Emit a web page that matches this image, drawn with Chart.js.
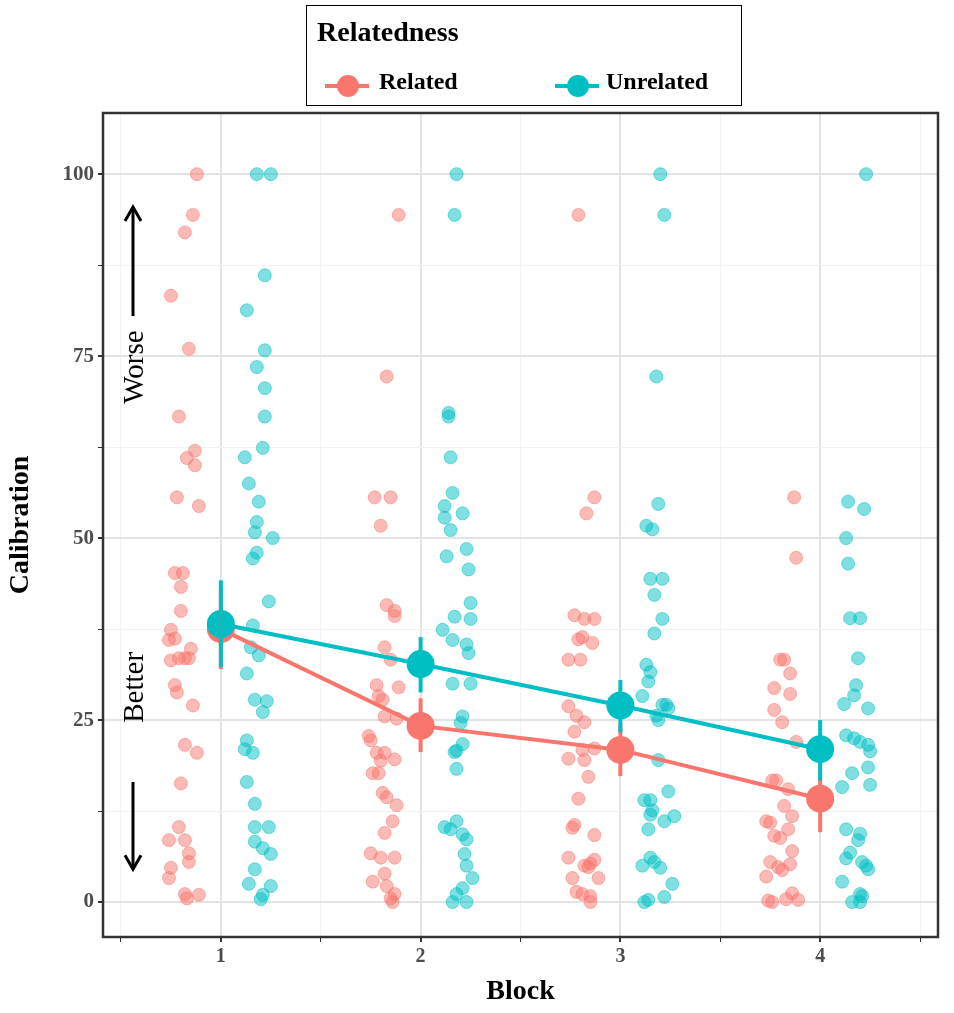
<!DOCTYPE html>
<html>
<head>
<meta charset="utf-8">
<script src="https://cdn.jsdelivr.net/npm/chart.js@4/dist/chart.umd.min.js"></script>
<style>
  body { margin: 0; background: #fff; font-family: "Liberation Serif", serif; overflow: hidden; }
  #wrap { position: relative; width: 954px; height: 1013px; }
  canvas { position: absolute; left: 0; top: 0; }
  #legend {
    position: absolute; left: 306px; top: 5px; width: 436px; height: 101px;
    border: 1.5px solid #000; box-sizing: border-box; font-weight: bold;
  }
  #legend .title { position: absolute; left: 10px; top: 10px; font-size: 28px; }
  .item { position: absolute; top: 62px; font-size: 24px; }
  .key { position: absolute; top: 16px; width: 44px; height: 4px; }
  .key span { position: absolute; left: 12px; top: -9px; width: 22px; height: 22px; border-radius: 50%; }
</style>
</head>
<body>
<div id="wrap">
  <canvas id="c" width="954" height="1013"></canvas>
  <div id="legend">
    <div class="title">Relatedness</div>
    <div class="item" style="left:18px"><div class="key" style="background:#f8766d;left:0"><span style="background:#f8766d"></span></div><span style="margin-left:54px">Related</span></div>
    <div class="item" style="left:248px"><div class="key" style="background:#00bfc4;left:0"><span style="background:#00bfc4"></span></div><span style="margin-left:51px">Unrelated</span></div>
  </div>
</div>
<script>
const blocks = [1, 2, 3, 4];
const xTicks = [1, 2, 3, 4];
const yTicks = [0, 25, 50, 75, 100];

// means and 95% intervals
const relMean = [37.5, 24.2, 20.9, 14.2];
const relLo = [32.0, 20.6, 17.3, 9.6];
const relHi = [43.0, 28.0, 24.3, 18.6];
const unrMean = [38.2, 32.7, 27.0, 21.0];
const unrLo = [32.3, 28.8, 23.3, 16.7];
const unrHi = [44.2, 36.4, 30.5, 25.0];

// raw scores per block (value) and horizontal jitter (offset from block)
const rel1 = [100, 94.4, 92, 83.3, 76, 66.7, 61, 62, 60, 55.6, 54.4, 45.2, 45.2, 43.3, 40, 37.4, 36, 36.2, 33.5, 33.5, 34.8, 33.2, 33.5, 29.8, 28.8, 27, 21.6, 20.5, 16.3, 10.3, 8.5, 8.5, 6.7, 5.5, 4.7, 3.3, 1.1, 1, 0.5];
const rel1J = [-.12, -.14, -.18, -.25, -.16, -.21, -.17, -.13, -.13, -.22, -.11, -.23, -.19, -.2, -.2, -.25, -.26, -.23, -.21, -.16, -.15, -.25, -.18, -.23, -.22, -.14, -.18, -.12, -.2, -.21, -.18, -.26, -.16, -.16, -.25, -.26, -.18, -.11, -.17];
const unr1 = [100, 100, 86.1, 81.3, 75.8, 73.5, 70.6, 66.7, 62.4, 61.1, 57.5, 55, 52.2, 50.8, 50, 48, 47.2, 41.3, 38, 35, 33.9, 31.4, 27.8, 27.6, 26.1, 22.2, 21, 20.5, 16.5, 13.5, 10.3, 10.3, 8.3, 7.4, 6.6, 4.5, 2.5, 2.2, 1, 0.4];
const unr1J = [.18, .25, .22, .13, .22, .18, .22, .22, .21, .12, .14, .19, .18, .17, .26, .18, .16, .24, .16, .15, .19, .13, .17, .23, .21, .13, .12, .16, .13, .17, .17, .24, .17, .21, .25, .17, .14, .25, .21, .2];

const rel2 = [94.4, 72.2, 55.6, 55.6, 51.7, 40.8, 40, 39.3, 35, 33.3, 29.8, 29.5, 28.3, 27.8, 25.5, 25.2, 22.8, 22.2, 20.5, 20.5, 19.6, 19.4, 17.7, 17.7, 15, 14.4, 13.3, 11.1, 9.5, 6.7, 6.1, 6.1, 3.9, 2.8, 2.2, 1.1, 0.5, 0];
const rel2J = [-.11, -.17, -.23, -.15, -.2, -.17, -.13, -.13, -.18, -.15, -.22, -.11, -.21, -.19, -.18, -.12, -.26, -.25, -.22, -.18, -.13, -.2, -.24, -.21, -.19, -.17, -.12, -.14, -.18, -.25, -.2, -.13, -.18, -.24, -.17, -.13, -.15, -.14];
const unr2 = [100, 94.4, 67.2, 66.7, 61.1, 56.2, 54.4, 53.4, 52.8, 51.1, 48.5, 47.5, 45.7, 41.1, 39.2, 38.9, 37.4, 36, 35.4, 34.2, 30, 30, 25.5, 24.6, 21.7, 20.8, 20.6, 18.3, 11.1, 10.3, 10, 9.3, 8.6, 6.6, 5, 3.3, 1.9, 1.1, 0, 0];
const unr2J = [.18, .17, .14, .14, .15, .16, .12, .21, .12, .15, .23, .13, .24, .25, .17, .25, .11, .16, .23, .24, .16, .25, .21, .2, .21, .18, .17, .18, .18, .12, .15, .21, .23, .22, .23, .26, .21, .18, .16, .23];

const rel3 = [94.4, 55.6, 53.4, 39.4, 38.9, 38.9, 36.4, 36.1, 35.6, 33.3, 33.3, 26.9, 25.6, 24.7, 23.4, 21.1, 20.9, 19.7, 19.5, 17.2, 14.2, 10.6, 10.2, 9.2, 6.1, 5.8, 5.3, 5, 4.8, 3.3, 3.3, 1.4, 1.1, 0.8, 0];
const rel3J = [-.21, -.13, -.17, -.23, -.18, -.13, -.19, -.21, -.14, -.26, -.2, -.26, -.22, -.18, -.23, -.13, -.19, -.26, -.18, -.16, -.21, -.23, -.24, -.13, -.26, -.13, -.15, -.18, -.16, -.24, -.11, -.22, -.19, -.15, -.15];
const unr3 = [100, 94.4, 72.2, 54.7, 51.7, 51.2, 44.4, 44.4, 42.2, 38.9, 36.9, 32.6, 31.6, 30.3, 28.3, 27.1, 27.1, 26.6, 25.6, 25, 19.5, 15.2, 14, 14, 12.6, 12, 11.8, 11.1, 10, 6.1, 5.5, 5, 4.7, 2.5, 0.7, 0.3, 0];
const unr3J = [.2, .22, .18, .19, .13, .16, .15, .21, .17, .21, .17, .13, .15, .14, .11, .21, .23, .24, .18, .19, .19, .24, .12, .15, .16, .15, .27, .22, .14, .15, .17, .11, .2, .26, .22, .14, .12];

const rel4 = [55.6, 47.3, 33.3, 33.3, 31.4, 29.4, 28.6, 26.4, 24.7, 22, 16.7, 16.7, 15.5, 13.2, 11.8, 11.1, 10.9, 10, 9.1, 8.8, 7, 5.5, 5.2, 4.8, 4.4, 3.5, 1.2, 0.4, 0.2, 0, 0.3];
const rel4J = [-.13, -.12, -.2, -.18, -.15, -.23, -.15, -.23, -.19, -.12, -.24, -.22, -.16, -.18, -.14, -.27, -.25, -.16, -.23, -.2, -.14, -.25, -.15, -.21, -.19, -.27, -.14, -.17, -.26, -.24, -.11];
const unr4 = [100, 55, 54, 50, 46.5, 39, 39, 33.5, 29.8, 28.4, 27.2, 26.6, 22.9, 22.5, 22, 21.6, 20.7, 18.5, 17.7, 15.8, 16.1, 10, 9.4, 8.5, 6.8, 6, 5.5, 5, 4.5, 2.8, 1.1, 0.8, 0, 0];
const unr4J = [.23, .14, .22, .13, .14, .15, .2, .19, .18, .17, .12, .24, .13, .17, .2, .24, .25, .24, .16, .11, .25, .13, .2, .19, .15, .13, .21, .23, .24, .11, .2, .21, .16, .2];

const relRaw = [[rel1, rel1J], [rel2, rel2J], [rel3, rel3J], [rel4, rel4J]];
const unrRaw = [[unr1, unr1J], [unr2, unr2J], [unr3, unr3J], [unr4, unr4J]];

const RED = "#f8766d", CYAN = "#00bfc4";
const pts = raw => raw.flatMap(([v, j], i) => v.map((y, k) => ({ x: blocks[i] + j[k], y })));

const errorBars = {
  id: "errorBars",
  afterDatasetsDraw(chart) {
    const { ctx, scales: { x, y } } = chart;
    ctx.save();
    ctx.lineWidth = 4;
    [[RED, relLo, relHi], [CYAN, unrLo, unrHi]].forEach(([col, lo, hi]) => {
      ctx.strokeStyle = col;
      blocks.forEach((b, i) => {
        const px = x.getPixelForValue(b);
        ctx.beginPath();
        ctx.moveTo(px, y.getPixelForValue(lo[i]));
        ctx.lineTo(px, y.getPixelForValue(hi[i]));
        ctx.stroke();
      });
    });
    ctx.restore();
  }
};

const frame = {
  id: "frame",
  afterDraw(chart) {
    const { ctx, chartArea: a, scales: { y } } = chart;
    ctx.save();
    ctx.strokeStyle = "#333";
    ctx.lineWidth = 2.5;
    ctx.strokeRect(a.left, a.top, a.right - a.left, a.bottom - a.top);
    // worse / better annotation arrows
    const ax = 133;
    ctx.strokeStyle = "#000"; ctx.fillStyle = "#000"; ctx.lineWidth = 3;
    const arrow = (from, to) => {
      const p1 = y.getPixelForValue(from), p2 = y.getPixelForValue(to);
      const d = Math.sign(p2 - p1);
      ctx.beginPath(); ctx.moveTo(ax, p1); ctx.lineTo(ax, p2); ctx.stroke();
      ctx.beginPath(); ctx.moveTo(ax - 8, p2 - d * 14); ctx.lineTo(ax, p2); ctx.lineTo(ax + 8, p2 - d * 14); ctx.stroke();
    };
    arrow(80.5, 95.5);
    arrow(16.5, 4.5);
    ctx.font = "29px 'Liberation Serif'";
    ctx.textAlign = "center"; ctx.textBaseline = "middle";
    [["Worse", 73.5], ["Better", 29.5]].forEach(([t, v]) => {
      ctx.save();
      ctx.translate(ax + 2, y.getPixelForValue(v));
      ctx.rotate(-Math.PI / 2);
      ctx.fillText(t, 0, 0);
      ctx.restore();
    });
    ctx.restore();
  }
};

new Chart(document.getElementById("c"), {
  type: "scatter",
  data: {
    datasets: [
      { data: pts(relRaw), backgroundColor: "rgba(248,118,109,0.5)", borderColor: "rgba(248,118,109,0.5)", pointRadius: 6.5, borderWidth: 1, order: 3 },
      { data: pts(unrRaw), backgroundColor: "rgba(0,191,196,0.5)", borderColor: "rgba(0,191,196,0.5)", pointRadius: 6.5, borderWidth: 1, order: 3 },
      { type: "line", data: blocks.map((b, i) => ({ x: b, y: relMean[i] })), borderColor: RED, backgroundColor: RED, borderWidth: 4, pointRadius: 12, order: 2 },
      { type: "line", data: blocks.map((b, i) => ({ x: b, y: unrMean[i] })), borderColor: CYAN, backgroundColor: CYAN, borderWidth: 4, pointRadius: 12, order: 1 }
    ]
  },
  options: {
    responsive: false,
    animation: false,
    layout: { padding: { left: 0, top: 113, right: -2, bottom: 0 } },
    plugins: { legend: { display: false }, tooltip: { enabled: false } },
    scales: {
      x: {
        type: "linear", min: 0.41, max: 4.59,
        afterBuildTicks: s => { s.ticks = [0.5, 1, 1.5, 2, 2.5, 3, 3.5, 4, 4.5].map(v => ({ value: v })); },
        afterFit: s => { s.height = 76; },
        grid: { color: c => xTicks.includes(c.tick.value) ? "#e3e3e3" : "#f2f2f2", lineWidth: c => xTicks.includes(c.tick.value) ? 2 : 1, tickLength: 5, tickColor: "#333" },
        border: { display: false },
        ticks: { callback: v => xTicks.includes(v) ? v : "", color: "#4d4d4d", font: { family: "Liberation Serif", size: 20, weight: "bold" }, padding: 3, maxRotation: 0, autoSkip: false },
        title: { display: true, text: "Block", color: "#000", font: { family: "Liberation Serif", size: 28, weight: "bold" }, padding: { top: 0 } }
      },
      y: {
        min: -4.8, max: 108.4,
        afterBuildTicks: s => { s.ticks = [0, 12.5, 25, 37.5, 50, 62.5, 75, 87.5, 100].map(v => ({ value: v })); },
        afterFit: s => { s.width = 103; },
        grid: { color: c => yTicks.includes(c.tick.value) ? "#e3e3e3" : "#f2f2f2", lineWidth: c => yTicks.includes(c.tick.value) ? 2 : 1, tickLength: 5, tickColor: "#333" },
        border: { display: false },
        ticks: { callback: v => yTicks.includes(v) ? v : "", color: "#4d4d4d", font: { family: "Liberation Serif", size: 21, weight: "bold" }, padding: 4, autoSkip: false },
        title: { display: true, text: "Calibration", color: "#000", font: { family: "Liberation Serif", size: 28, weight: "bold" }, padding: { bottom: 0 } }
      }
    }
  },
  plugins: [errorBars, frame]
});
</script>
</body>
</html>
